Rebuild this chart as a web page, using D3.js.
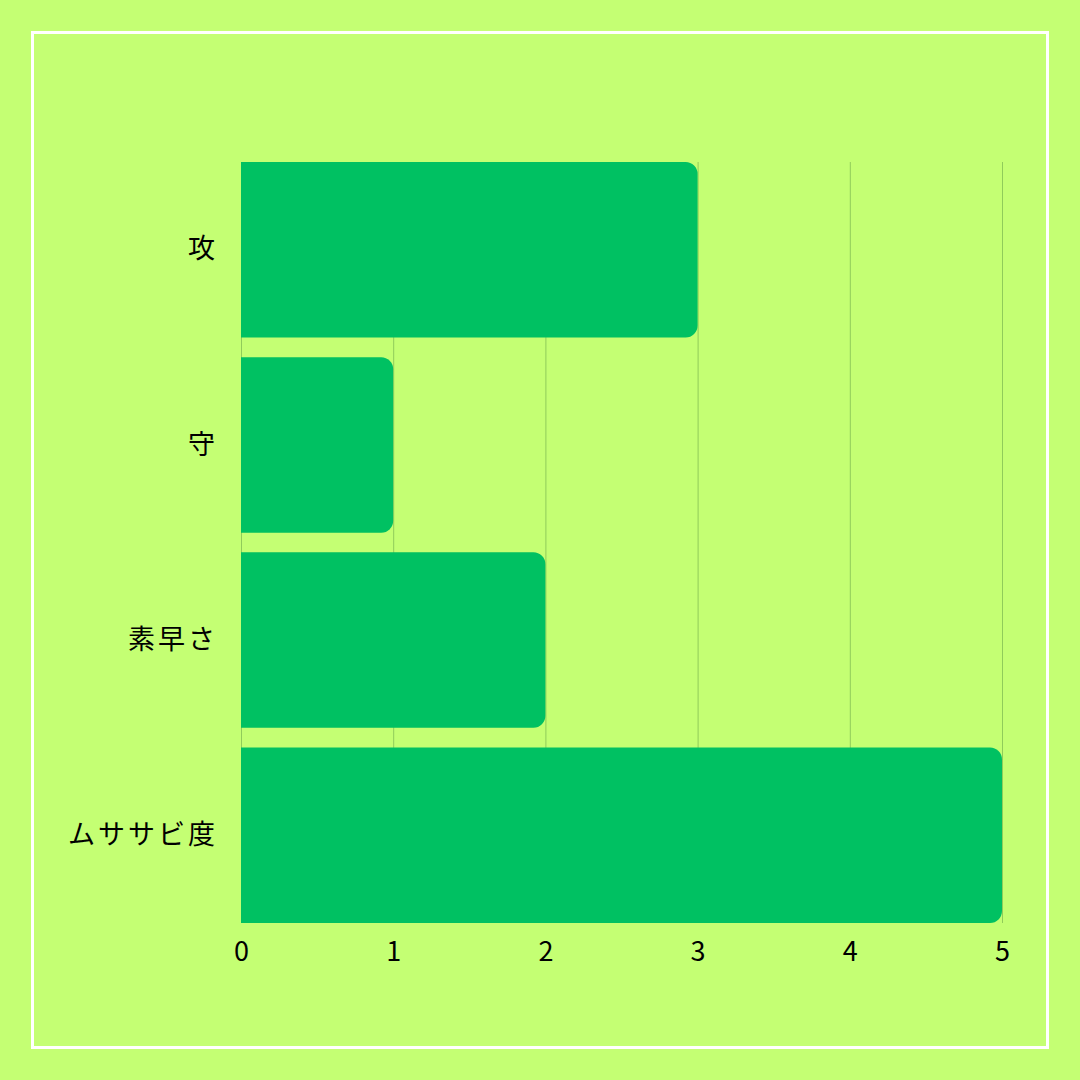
<!DOCTYPE html>
<html lang="ja">
<head>
    <meta charset="UTF-8">
    <title>ムササビ</title>
    <script src="https://d3js.org/d3.v7.min.js"></script>
    <style>
        body {
            margin: 0;
            background: #c4ff73;
        }
        svg {
            display: block;
        }
        .tick text {
            font-family: "Noto Sans CJK JP", "Noto Sans", sans-serif;
            font-size: 27px;
            fill: #000;
        }
        .y-axis .tick text {
            letter-spacing: 3px;
        }
    </style>
</head>
<body>
    <svg id="chart"></svg>

    <script>
        // data
        const categories = ["攻", "守", "素早さ", "ムササビ度"];
        const values = [3, 1, 2, 5];
        const xTicks = [0, 1, 2, 3, 4, 5];

        const W = 1080, H = 1080;
        const margin = { top: 162, right: 78, bottom: 157, left: 241 },
              width = W - margin.left - margin.right,
              height = H - margin.top - margin.bottom;

        const root = d3.select("#chart")
                       .attr("width", W)
                       .attr("height", H);

        // background + white frame
        root.append("rect")
            .attr("width", W).attr("height", H)
            .attr("fill", "#c4ff73");
        root.append("rect")
            .attr("x", 32.5).attr("y", 32.5)
            .attr("width", W - 65).attr("height", H - 65)
            .attr("fill", "none")
            .attr("stroke", "#fff")
            .attr("stroke-width", 3);

        const svg = root.append("g")
                        .attr("transform", `translate(${margin.left},${margin.top})`);

        const x = d3.scaleLinear()
                    .domain([0, 5])
                    .range([0, width]);

        const y = d3.scaleBand()
                    .domain(categories)
                    .range([0, height])
                    .paddingInner(0.1)
                    .paddingOuter(0);

        // vertical grid lines
        svg.append("g")
           .selectAll("line")
           .data(xTicks)
           .enter()
           .append("line")
           .attr("x1", d => x(d) + 0.5)
           .attr("x2", d => x(d) + 0.5)
           .attr("y1", 0)
           .attr("y2", height)
           .attr("stroke", "#90cc5a")
           .attr("stroke-width", 1);

        // bars, rounded on the right end only
        const r = 12;
        const barPath = (d, i) => {
            const x0 = x(0), x1 = x(d), y0 = y(categories[i]), h = y.bandwidth();
            const rr = Math.min(r, (x1 - x0) / 2);
            return `M${x0},${y0}H${x1 - rr}A${rr},${rr} 0 0 1 ${x1},${y0 + rr}` +
                   `V${y0 + h - rr}A${rr},${rr} 0 0 1 ${x1 - rr},${y0 + h}H${x0}Z`;
        };

        svg.selectAll(".bar")
           .data(values)
           .enter()
           .append("path")
           .attr("class", "bar")
           .attr("d", barPath)
           .attr("fill", "#00c162");

        // x axis
        svg.append("g")
           .attr("transform", `translate(0,${height})`)
           .call(d3.axisBottom(x).tickValues(xTicks).tickFormat(d3.format("d")).tickSize(0).tickPadding(19))
           .call(g => g.select(".domain").remove());

        // y axis
        svg.append("g")
           .attr("class", "y-axis")
           .call(d3.axisLeft(y).tickSize(0).tickPadding(23))
           .call(g => g.select(".domain").remove());
    </script>
</body>
</html>
